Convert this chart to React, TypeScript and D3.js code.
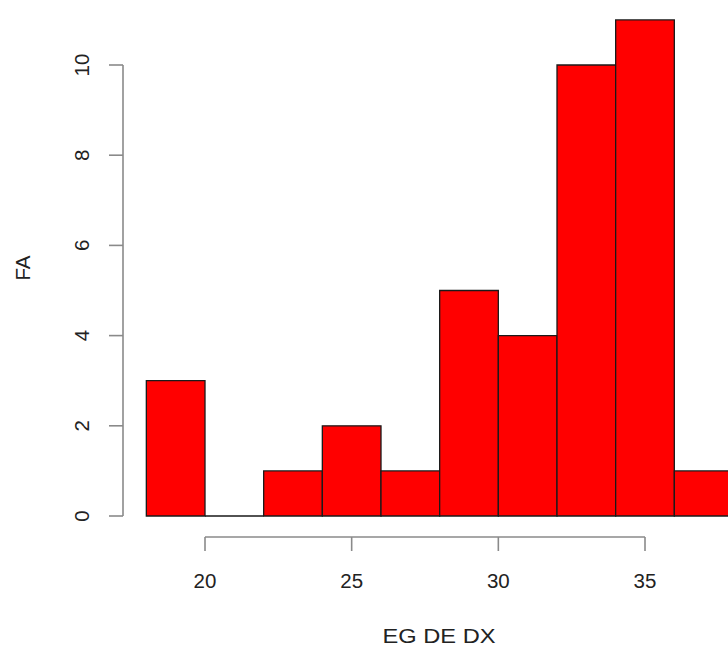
import React from "react";
import * as d3 from "d3";

const binStarts = [18, 20, 22, 24, 26, 28, 30, 32, 34, 36];
const binWidth = 2;
const counts = [3, 0, 1, 2, 1, 5, 4, 10, 11, 1];
const xTicks = [20, 25, 30, 35];
const yTicks = [0, 2, 4, 6, 8, 10];
const xLabel = "EG DE DX";
const yLabel = "FA";

export default function App() {
  const W = 728, H = 648;
  const x = d3.scaleLinear().domain([20, 35]).range([205, 645]);
  const y = d3.scaleLinear().domain([0, 10]).range([516, 65]);
  const axisColor = "#8a8a8a";
  const textColor = "#222";
  const font = "'Liberation Sans', Arial, Helvetica, sans-serif";
  const fs = 20.5;
  const axisY = 537;
  const axisX = 123;
  const barPath = (s: number, c: number) => {
    const p = d3.path();
    p.rect(x(s), y(c), x(s + binWidth) - x(s), y(0) - y(c));
    return p.toString();
  };
  return (
    <svg width={W} height={H} style={{ position: "absolute", left: 0, top: 0, background: "#fff" }}>
      {binStarts.map((s, i) => (
        <path
          key={i}
          d={barPath(s, counts[i])}
          fill="#ff0000"
          stroke="#1a1a1a"
          strokeWidth={1.3}
        />
      ))}
      {/* x axis */}
      <line x1={x(xTicks[0])} x2={x(xTicks[xTicks.length - 1])} y1={axisY} y2={axisY} stroke={axisColor} strokeWidth={1.6} />
      {xTicks.map((t) => (
        <g key={t}>
          <line x1={x(t)} x2={x(t)} y1={axisY} y2={axisY + 14} stroke={axisColor} strokeWidth={1.6} />
          <text x={x(t)} y={588} textAnchor="middle" fontFamily={font} fontSize={fs} fill={textColor}>
            {t}
          </text>
        </g>
      ))}
      {/* y axis */}
      <line x1={axisX} x2={axisX} y1={y(yTicks[0])} y2={y(yTicks[yTicks.length - 1])} stroke={axisColor} strokeWidth={1.6} />
      {yTicks.map((t) => (
        <g key={t}>
          <line x1={axisX - 14} x2={axisX} y1={y(t)} y2={y(t)} stroke={axisColor} strokeWidth={1.6} />
          <text
            transform={`translate(${89},${y(t)}) rotate(-90)`}
            textAnchor="middle"
            fontFamily={font}
            fontSize={fs}
            fill={textColor}
          >
            {t}
          </text>
        </g>
      ))}
      <text x={439} y={643} textAnchor="middle" fontFamily={font} fontSize={fs} fill={textColor} textLength={113} lengthAdjust="spacingAndGlyphs">
        {xLabel}
      </text>
      <text
        transform={`translate(${30},${268}) rotate(-90)`}
        textAnchor="middle"
        fontFamily={font}
        fontSize={fs}
        fill={textColor}
      >
        {yLabel}
      </text>
    </svg>
  );
}
